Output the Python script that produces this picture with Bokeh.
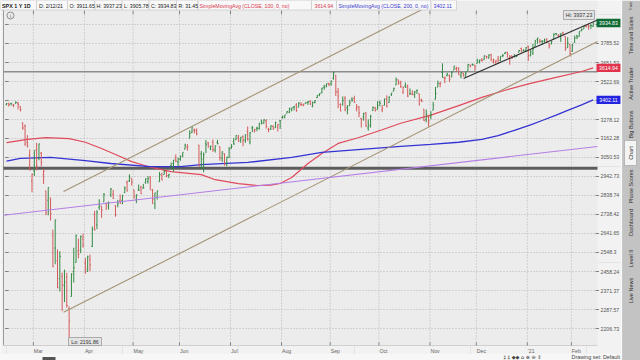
import numpy as np
import pandas as pd
from bokeh.plotting import figure
from bokeh.models import Range1d, LogScale, ColumnDataSource
from bokeh.embed import file_html
from bokeh.resources import INLINE
from bokeh.core.properties import value

# ---------------- data ----------------
start_date, end_date = "2020-02-12", "2021-02-12"
holidays = ["2020-02-17", "2020-04-10", "2020-05-25", "2020-07-03", "2020-09-07",
            "2020-11-26", "2020-12-25", "2021-01-01", "2021-01-18"]

opens = [
 3370.50,3365.90,3378.08,3369.04,3380.39,3380.45,3360.50,3257.61,3238.94,3139.90,3062.54,2916.90,
 2974.28,3096.46,3045.75,3075.70,2954.20,2863.89,2813.48,2825.60,2630.86,2569.99,2508.59,2425.66,2436.50,2393.48,2431.94,2290.71,2344.44,2457.77,2501.29,2555.87,2558.98,2614.69,
 2498.08,2458.54,2514.92,2578.28,2738.65,2685.00,2776.99,2782.46,2805.10,2795.64,2799.34,2842.43,2845.62,2784.81,2787.89,2810.42,2812.64,2854.65,2909.96,2918.46,2930.91,
 2869.09,2815.01,2868.88,2883.14,2878.26,2908.83,2915.46,2939.50,2865.86,2794.54,2829.95,2913.86,2948.59,2953.63,2969.95,2948.05,3004.08,3015.65,3046.61,3025.17,
 3038.78,3064.78,3098.90,3111.56,3163.84,3199.92,3213.32,3213.42,3123.53,3071.04,2993.76,3131.00,3136.13,3101.64,3140.29,3094.42,3138.70,3114.40,3046.60,3073.20,3018.59,3050.20,
 3105.92,3143.64,3155.29,3166.44,3153.07,3176.17,3152.47,3205.08,3141.11,3225.98,3208.36,3224.21,3224.29,3268.52,3254.86,3271.64,3218.58,3219.84,3234.27,3227.22,3231.76,3270.45,
 3288.26,3289.92,3317.37,3323.17,3340.05,3356.04,3370.34,3355.46,3372.95,3368.66,3380.86,3387.04,3392.51,3360.48,3386.01,3418.09,3435.95,3449.97,3485.14,3494.69,3509.73,
 3507.44,3543.76,3564.74,3453.60,3371.88,3369.82,3412.56,3352.70,3363.56,3407.73,3411.23,3346.86,3357.38,3285.57,3295.75,3320.11,3226.14,3236.66,3333.90,3350.92,3341.21,
 3385.87,3338.94,3367.27,3408.74,3384.56,3434.28,3459.67,3500.02,3534.01,3515.47,3453.72,3493.50,3493.66,3439.38,3439.91,3438.50,3464.90,3441.42,3403.15,3342.48,3277.17,3293.59,
 3296.20,3336.25,3406.46,3485.74,3508.34,3583.04,3543.26,3563.22,3562.67,3552.57,3600.16,3610.31,3612.09,3559.41,3579.31,3566.82,3594.52,3635.50,3638.55,3634.18,
 3645.87,3653.78,3668.28,3670.94,3694.73,3683.05,3705.98,3659.13,3656.08,3675.27,3666.41,3696.25,3713.65,3722.39,3684.28,3698.08,3693.42,3694.03,3723.03,3750.01,3736.19,3733.27,
 3764.61,3698.02,3712.20,3764.71,3815.05,3803.14,3801.62,3802.23,3814.98,3788.73,3781.88,3816.22,3857.46,3844.24,3851.68,3862.96,3836.83,3755.75,3778.05,
 3731.17,3791.84,3840.27,3836.66,3878.30,3892.59,3910.49,3920.78,3916.40,3911.65]
highs = [
 3381.47,3385.09,3380.69,3375.01,3393.52,3389.15,3360.76,3259.81,3246.99,3182.51,3097.07,2959.72,
 3090.96,3136.72,3130.97,3083.04,2985.93,2863.89,2882.59,2825.60,2660.95,2711.33,2562.98,2553.93,2453.57,2466.97,2453.01,2300.73,2449.71,2571.42,2637.01,2615.91,2631.80,2641.39,
 2522.75,2533.22,2538.18,2676.85,2756.89,2760.75,2818.57,2782.46,2851.85,2801.88,2806.51,2879.22,2868.98,2785.54,2815.10,2844.90,2842.71,2887.72,2921.15,2954.86,2930.91,
 2869.09,2844.24,2898.23,2891.11,2901.92,2932.16,2944.25,2945.82,2874.14,2852.80,2865.01,2968.09,2964.21,2980.29,2978.50,2956.76,3021.72,3036.25,3068.67,3049.17,
 3062.18,3081.07,3130.94,3128.91,3211.72,3233.13,3222.71,3223.27,3123.53,3088.42,3079.76,3153.45,3141.16,3120.00,3155.53,3120.92,3154.90,3115.01,3086.25,3073.73,3053.89,3111.51,
 3128.44,3165.81,3182.59,3184.15,3171.80,3179.78,3186.82,3235.32,3200.95,3238.28,3220.39,3233.52,3258.61,3277.29,3279.32,3279.99,3227.26,3241.43,3243.72,3264.74,3250.92,3272.17,
 3302.73,3306.84,3330.77,3351.03,3352.54,3363.29,3381.01,3387.89,3387.24,3378.51,3387.59,3395.06,3399.54,3390.80,3399.96,3432.09,3444.21,3481.07,3501.38,3509.23,3514.77,
 3528.03,3588.11,3564.85,3479.15,3379.97,3424.77,3425.55,3368.95,3402.93,3419.48,3428.92,3375.17,3362.27,3285.57,3320.31,3323.35,3278.70,3306.88,3360.74,3357.92,3393.56,
 3397.18,3369.10,3409.57,3431.56,3426.26,3447.28,3482.34,3549.85,3534.01,3527.94,3489.08,3515.76,3502.42,3476.93,3464.86,3460.53,3466.46,3441.42,3409.51,3342.48,3341.05,3304.93,
 3330.14,3389.49,3486.25,3529.05,3521.58,3645.99,3557.22,3581.16,3569.02,3593.66,3628.51,3623.11,3619.09,3585.22,3581.23,3589.81,3642.31,3635.50,3644.31,3634.18,
 3678.45,3670.96,3682.73,3699.20,3697.41,3708.45,3712.39,3678.49,3665.91,3697.61,3695.29,3711.27,3725.12,3726.70,3702.90,3698.26,3711.24,3703.82,3740.51,3756.12,3744.63,3760.20,
 3769.99,3737.83,3783.04,3811.55,3826.69,3817.86,3810.78,3820.96,3823.60,3788.73,3804.53,3859.75,3861.45,3852.31,3859.23,3870.90,3836.83,3830.50,3778.05,
 3784.32,3843.09,3847.51,3872.42,3894.56,3915.77,3918.35,3931.50,3925.99,3937.23]
lows = [
 3369.72,3360.52,3366.15,3355.61,3378.83,3341.02,3328.45,3214.65,3118.77,3108.99,2977.39,2855.84,
 2945.19,2976.63,3034.38,2999.83,2901.54,2734.43,2734.00,2707.22,2478.86,2492.37,2380.94,2367.04,2280.52,2319.78,2295.56,2191.86,2344.44,2407.53,2500.72,2520.02,2545.28,2571.15,
 2447.49,2455.79,2459.96,2574.57,2657.67,2663.30,2762.36,2721.17,2805.10,2761.54,2764.32,2830.88,2820.43,2727.10,2775.95,2794.26,2791.76,2852.89,2860.71,2912.16,2892.47,
 2821.61,2797.85,2863.55,2847.65,2876.48,2902.88,2903.44,2869.59,2793.15,2766.64,2816.78,2913.86,2922.35,2953.63,2938.57,2933.59,2988.17,2969.75,3023.40,2998.61,
 3031.54,3051.64,3098.90,3090.41,3163.84,3196.00,3193.11,3181.49,2999.49,2984.47,2965.66,3076.06,3108.03,3093.51,3083.11,3079.39,3127.12,3032.13,3024.01,3004.63,2999.74,3047.83,
 3101.17,3124.52,3155.29,3142.93,3136.53,3115.70,3136.22,3149.43,3127.66,3200.76,3198.59,3205.65,3215.16,3247.77,3253.10,3222.66,3200.05,3214.25,3216.17,3227.22,3204.13,3220.26,
 3284.53,3286.37,3317.37,3318.14,3328.72,3335.44,3326.44,3355.46,3363.35,3361.64,3379.22,3370.15,3369.66,3354.69,3379.31,3413.13,3425.84,3444.15,3468.35,3484.32,3493.25,
 3494.60,3535.23,3427.41,3349.63,3329.27,3366.84,3329.25,3310.47,3363.56,3389.25,3384.45,3328.82,3292.40,3229.10,3270.95,3232.57,3209.45,3228.44,3332.91,3327.54,3340.47,
 3361.39,3323.69,3367.27,3354.54,3384.56,3428.15,3458.07,3499.61,3500.86,3480.55,3440.89,3480.45,3419.93,3435.65,3433.06,3415.34,3440.45,3364.86,3388.71,3268.89,3259.82,3233.94,
 3279.74,3336.25,3405.17,3485.74,3484.34,3547.48,3511.91,3557.00,3518.58,3552.57,3600.16,3588.68,3567.33,3543.84,3556.85,3552.77,3594.52,3617.76,3629.33,3594.39,
 3645.87,3644.84,3657.17,3670.94,3678.88,3678.83,3660.54,3645.18,3633.40,3645.84,3659.62,3688.57,3710.87,3685.84,3636.48,3676.16,3689.28,3689.32,3723.03,3723.31,3730.21,3726.88,
 3662.71,3695.07,3705.34,3764.71,3783.60,3789.02,3776.51,3791.50,3792.86,3749.62,3780.37,3816.22,3845.05,3830.41,3797.16,3847.78,3732.48,3755.75,3694.12,
 3725.62,3791.84,3816.68,3836.66,3874.93,3892.59,3902.64,3884.94,3890.39,3905.78]
closes = [
 3379.45,3373.94,3380.16,3370.29,3386.15,3373.23,3337.75,3225.89,3128.21,3116.39,2978.76,2954.22,
 3090.23,3003.37,3130.12,3023.94,2972.37,2746.56,2882.23,2741.38,2480.64,2711.02,2386.13,2529.19,2398.10,2409.39,2304.92,2237.40,2447.33,2475.56,2630.07,2541.47,2626.65,2584.59,
 2470.50,2526.90,2488.65,2663.68,2659.41,2749.98,2789.82,2761.63,2846.06,2783.36,2799.55,2874.56,2823.16,2736.56,2799.31,2797.80,2836.74,2878.48,2863.39,2939.51,2912.43,
 2830.71,2842.74,2868.44,2848.42,2881.19,2929.80,2930.32,2870.12,2820.00,2852.50,2863.70,2953.91,2922.94,2971.61,2948.51,2955.45,2991.77,3036.13,3029.73,3044.31,
 3055.73,3080.82,3122.87,3112.35,3193.93,3232.39,3207.18,3190.14,3002.10,3041.31,3066.59,3124.74,3113.49,3115.34,3097.74,3117.86,3131.29,3050.33,3083.76,3009.05,3053.24,3100.29,
 3115.86,3130.01,3179.72,3145.32,3169.94,3152.05,3185.04,3155.22,3197.52,3226.56,3215.57,3224.73,3251.84,3257.30,3276.02,3235.66,3215.63,3239.41,3218.44,3258.44,3246.22,3271.12,
 3294.61,3306.51,3327.77,3349.16,3351.28,3360.47,3333.69,3380.35,3373.43,3372.85,3381.99,3389.78,3374.85,3385.51,3397.16,3431.28,3443.62,3478.73,3484.55,3508.01,3500.31,
 3526.65,3580.84,3455.06,3426.96,3331.84,3398.96,3339.19,3340.97,3383.54,3401.20,3385.49,3357.01,3319.47,3281.06,3315.57,3236.92,3246.59,3298.46,3351.60,3335.47,3363.00,
 3380.80,3348.42,3408.60,3360.97,3419.44,3446.83,3477.14,3534.22,3511.93,3488.67,3483.34,3483.81,3426.92,3443.12,3435.56,3453.49,3465.39,3400.97,3390.68,3271.03,3310.11,3269.96,
 3310.24,3369.16,3443.44,3510.45,3509.44,3550.50,3545.53,3572.66,3537.01,3585.15,3626.91,3609.53,3567.79,3581.87,3557.54,3577.59,3635.41,3629.65,3638.35,3621.63,
 3662.45,3669.01,3666.72,3699.12,3691.96,3702.25,3672.82,3668.10,3663.46,3647.49,3694.62,3701.17,3722.48,3709.41,3694.92,3687.26,3690.01,3703.06,3735.36,3727.04,3732.04,3756.07,
 3700.65,3726.86,3748.14,3803.79,3824.68,3799.61,3801.19,3809.84,3795.54,3768.25,3798.91,3851.85,3853.07,3841.47,3855.36,3849.62,3750.77,3787.38,3714.24,
 3773.86,3826.31,3830.17,3871.74,3886.83,3915.59,3911.23,3909.88,3916.38,3934.83]

# moving averages (bar number, value)
sma100_bar = [0, 9, 17, 27, 34, 41, 48, 54, 62, 71, 84, 90, 100, 108, 114, 118, 123, 130, 136, 143,
              152, 162, 170, 183, 195, 205, 215, 226, 237, 248, 253]
sma100_val = [3138, 3157, 3168, 3162, 3140, 3103, 3062, 3027, 2995, 2970, 2953, 2925, 2903, 2893, 2895,
              2904, 2937, 3016, 3074, 3133, 3168, 3215, 3255, 3305, 3365, 3418, 3465, 3510, 3550, 3590, 3614.94]
sma200_bar = [0, 6, 19, 34, 45, 62, 75, 84, 104, 123, 136, 153, 170, 183, 195, 205, 212, 219, 226,
              231, 237, 242, 248, 253]
sma200_val = [3030, 3045, 3051, 3033, 3016, 2998, 2998, 3010, 3022, 3051, 3080, 3098, 3115, 3127, 3140,
              3157, 3180, 3211, 3245, 3272, 3305, 3335, 3370, 3402.11]

# drawn trend lines (bar, price) -> (bar, price)
trend_bar0 = [24.6, 24.6, -1.3, 197.1]
trend_px0 = [2275.2, 2860.6, 2734.5, 3543.0]
trend_bar1 = [254.85, 180.7, 254.85, 254.85]
trend_px1 = [3799.8, 4050.6, 3115.0, 3958.0]
trend_color = ["#a39475", "#a39475", "#b47fe6", "#2e2e2e"]
hline_px = [2989.0, 3588.11]
hline_color = ["#5c5c5c", "#8c8c8c"]
hline_width = [2.8, 1.4]

price_ticks = [3924.2, 3785.52, 3651.53, 3522.69, 3398.1, 3278.12, 3162.28, 3050.53, 2942.73,
               2838.74, 2738.42, 2641.65, 2548.3, 2458.24, 2371.37, 2287.57, 2206.73]
price_tick_labels = ["3924.2", "3785.52", "3651.53", "3522.69", "3398.1", "3278.12", "3162.28",
                     "3050.53", "2942.73", "2838.74", "2738.42", "2641.65", "2548.3", "2458.24",
                     "2371.37", "2287.57", "2206.73"]
month_labels = ["Mar", "Apr", "May", "Jun", "Jul", "Aug", "Sep", "Oct", "Nov", "Dec", "'21", "Feb"]

header_texts = ["SPX 1 Y 1D", "D: 2/12/21", "O: 3911.65", "H: 3937.23", "L: 3905.78", "C: 3934.83",
                "R: 31.45", "SimpleMovingAvg (CLOSE, 100, 0, no)", "3614.94",
                "SimpleMovingAvg (CLOSE, 200, 0, no)", "3402.11"]
last_close, sma100_last, sma200_last = 3934.83, 3614.94, 3402.11
hi_text, lo_text = "Hi: 3937.23", "Lo: 2191.86"
sidebar_tabs = ["Trade", "Time and Sales", "Active Trader", "Big Buttons", "Chart",
                "Phase Scores", "Dashboard", "Level II", "Live News"]

# ---------------- layout (pixels -> data) ----------------
W, H = 640, 360
BAR_X0, BAR_DX = 6.0, 2.319
PY_REF, PX_PER_DEC = 138.0, 1216.0


def X(px):
    return (px - BAR_X0) / BAR_DX


def Y(py):
    return 10 ** (3.5 + (PY_REF - py) / PX_PER_DEC)


def ypx(price):
    return PY_REF + (3.5 - np.log10(price)) * PX_PER_DEC


FONT = value("Liberation Sans")
GREEN, RED = "#338a45", "#d65a5a"

dates = [d for d in pd.bdate_range(start_date, end_date) if d.strftime("%Y-%m-%d") not in holidays]
n = min(len(dates), len(opens), len(highs), len(lows), len(closes))
idx = np.arange(n)
o, h, l, c = (np.array(a[:n]) for a in (opens, highs, lows, closes))
month_idx = [i for i in range(1, n) if dates[i].month != dates[i - 1].month]

p = figure(width=W, height=H, x_range=Range1d(X(0), X(W)), y_range=Range1d(Y(H), Y(0)),
           y_axis_type="log", x_axis_location=None, y_axis_location=None,
           toolbar_location=None, output_backend="svg", min_border=0,
           background_fill_color="#f2f2f2", border_fill_color="#f2f2f2")
p.y_scale = LogScale()
p.outline_line_color = None

# chart area
p.quad(left=[X(3)], right=[X(597)], bottom=[Y(345)], top=[Y(0)], fill_color="#ececec", line_color=None)
p.segment(x0=[X(3)], x1=[X(3)], y0=[Y(0)], y1=[Y(345)], line_color="#9a9a9a", line_width=1)
p.segment(x0=[X(3)], x1=[X(597)], y0=[Y(345)], y1=[Y(345)], line_color="#d0d0d0", line_width=1)

# horizontal grid
p.segment(x0=X(8), x1=X(595), y0=price_ticks, y1=price_ticks, line_color="#a8a8a8",
          line_width=0.8, line_dash="1 2")
p.segment(x0=X(4.5), x1=X(8), y0=price_ticks, y1=price_ticks, line_color="#666666", line_width=0.8)
p.segment(x0=X(595), x1=X(598.5), y0=price_ticks, y1=price_ticks, line_color="#666666", line_width=0.8)

# vertical grid at months
mx = [m - 0.4 for m in month_idx]
p.segment(x0=mx, x1=mx, y0=Y(14), y1=Y(342), line_color="#a8a8a8", line_width=0.8, line_dash="1 2")
p.segment(x0=mx, x1=mx, y0=Y(10), y1=Y(13.5), line_color="#666666", line_width=0.8)
p.segment(x0=mx, x1=mx, y0=Y(342), y1=Y(345), line_color="#666666", line_width=0.8)
p.text(x=[m + 0.2 for m in mx], y=Y(350), text=month_labels[:len(mx)], text_font=FONT,
       text_font_size="5.2px", text_color="#666666", text_align="left", text_baseline="middle")

# horizontal drawings
p.segment(x0=X(3), x1=X(597), y0=hline_px, y1=hline_px, line_color=hline_color, line_width=hline_width)

# moving averages
p.line(sma100_bar, sma100_val, line_color="#e04a5c", line_width=1.2)
p.line(sma200_bar, sma200_val, line_color="#3333d4", line_width=1.3)

# OHLC bars
prev = np.concatenate([[o[0]], c[:-1]])
col = np.where(c >= prev, GREEN, RED)
src = ColumnDataSource(dict(x=idx, xl=idx - 0.42, xr=idx + 0.42, o=o, h=h, l=l, c=c, col=col))
p.segment(x0="x", y0="l", x1="x", y1="h", line_color="col", line_width=1, source=src)
p.segment(x0="xl", y0="o", x1="x", y1="o", line_color="col", line_width=1, source=src)
p.segment(x0="x", y0="c", x1="xr", y1="c", line_color="col", line_width=1, source=src)

# trend lines
p.segment(x0=trend_bar0, y0=trend_px0, x1=trend_bar1, y1=trend_px1, line_color=trend_color, line_width=1.1)

# Lo / Hi bubbles
lo_i = int(np.argmin(l))
p.segment(x0=[lo_i], x1=[lo_i], y0=[l[lo_i]], y1=[Y(337)], line_color="#d65a5a", line_width=1)
p.quad(left=[X(68)], right=[X(101)], bottom=[Y(345)], top=[Y(337)], fill_color="#e4e4e4",
       line_color="#9a9a9a", line_width=0.8)
p.text(x=[X(84.5)], y=[Y(341)], text=[lo_text], text_font=FONT, text_font_size="5.2px",
       text_color="#333333", text_align="center", text_baseline="middle")
p.quad(left=[X(563)], right=[X(594)], bottom=[Y(19)], top=[Y(10)], fill_color="#e4e4e4",
       line_color="#9a9a9a", line_width=0.8)
p.text(x=[X(578.5)], y=[Y(14.5)], text=[hi_text], text_font=FONT, text_font_size="5.2px",
       text_color="#333333", text_align="center", text_baseline="middle")

# right price labels
p.text(x=X(600), y=price_ticks, text=price_tick_labels, text_font=FONT, text_font_size="5.2px",
       text_color="#555555", text_align="left", text_baseline="middle")
tag_vals = [last_close, sma100_last, sma200_last]
tag_cols = ["#0e6b34", "#e2334c", "#2323e0"]
tag_y = [ypx(v) for v in tag_vals]
p.quad(left=X(596), right=X(620), bottom=[Y(t + 4.2) for t in tag_y], top=[Y(t - 4.2) for t in tag_y],
       fill_color=tag_cols, line_color=None)
p.text(x=X(608), y=tag_vals, text=["%.2f" % v for v in tag_vals], text_font=FONT, text_font_size="5.2px",
       text_color="white", text_align="center", text_baseline="middle")

# header
box_edges = [0, 36, 67, 94.5, 121.5, 148.5, 176, 197.5, 311, 336, 430.5, 456]
p.quad(left=[X(a) for a in box_edges[:-1]], right=[X(b) for b in box_edges[1:]], bottom=Y(9.5), top=Y(0),
       fill_color="#f8f8f8", line_color="#c8c8c8", line_width=0.7)
hx = [1.5, 38.5, 69, 96, 123.5, 150.5, 178, 199, 314, 338, 433]
hcol = ["#1a1a1a"] * 7 + ["#d9374b"] * 2 + ["#3b3bd0"] * 2
p.text(x=[X(v) for v in hx[1:]], y=Y(5), text=header_texts[1:], text_font=FONT, text_font_size="5.2px",
       text_color=hcol[1:], text_align="left", text_baseline="middle")
p.text(x=[X(hx[0])], y=[Y(5)], text=header_texts[:1], text_font=FONT, text_font_size="5.4px",
       text_font_style="bold", text_color=hcol[0], text_align="left", text_baseline="middle")

# info icon
p.scatter(x=[X(10)], y=[Y(15)], size=7, marker="circle", fill_color=None, line_color="#777777", line_width=0.8)
p.text(x=[X(10)], y=[Y(15)], text=["i"], text_font=FONT, text_font_size="5px", text_color="#666666",
       text_align="center", text_baseline="middle")

# sidebar
p.quad(left=[X(621)], right=[X(640)], bottom=[Y(360)], top=[Y(0)], fill_color="#c3c3c3", line_color=None)
p.segment(x0=[X(621)], x1=[X(621)], y0=[Y(0)], y1=[Y(360)], line_color="#fafafa", line_width=1.2)
p.quad(left=[X(624)], right=[X(636)], bottom=[Y(165)], top=[Y(140)], fill_color="#f4f4f4", line_color="#a0a0a0",
       line_width=0.6)
tab_y = [5.5, 35, 83, 124, 152.5, 186, 222, 258, 290]
tab_fs = ["3.5px"] + ["5.5px"] * 8
p.text(x=X(630), y=[Y(t) for t in tab_y], text=sidebar_tabs, angle=np.pi / 2, text_font=FONT,
       text_font_size=tab_fs, text_color="#333333", text_align="center", text_baseline="middle")

# bottom toolbar
p.quad(left=[X(0)], right=[X(621)], bottom=[Y(360)], top=[Y(353.5)], fill_color="#f7f7f7", line_color=None)
p.quad(left=[X(42)], right=[X(55)], bottom=[Y(360)], top=[Y(356.5)], fill_color="#555555", line_color=None)
p.text(x=[X(503)], y=[Y(356.5)], text=["\u2021 \u2021 \u25c6\u25c6 \u2302 \u2295 \u2296  \u21d5"],
       text_font=value("DejaVu Sans"), text_font_size="5px", text_color="#444444",
       text_align="left", text_baseline="middle")
p.text(x=[X(571)], y=[Y(356.5)], text=["Drawing set: Default"], text_font=FONT, text_font_size="5.4px",
       text_color="#444444", text_align="left", text_baseline="middle")

open("out.html", "w").write(file_html(p, INLINE))
